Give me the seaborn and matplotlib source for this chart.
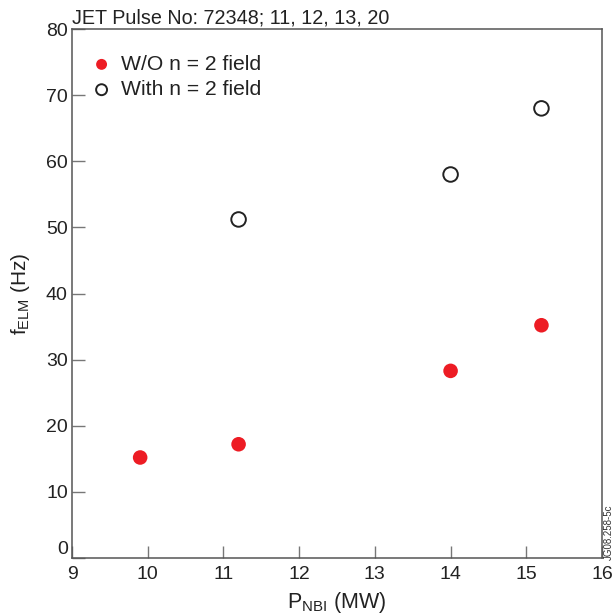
import pandas as pd
import matplotlib
matplotlib.use('Agg')
import matplotlib.pyplot as plt
import seaborn as sb

# values
pnbi_without = [9.9, 11.2, 14.0, 15.2]
felm_without = [15.2, 17.2, 28.3, 35.2]
pnbi_with = [11.2, 14.0, 15.2]
felm_with = [51.2, 58.0, 68.0]

x_ticks = [9, 10, 11, 12, 13, 14, 15, 16]
y_ticks = [0, 10, 20, 30, 40, 50, 60, 70, 80]

sb.set_style('white')
plt.rcParams['font.family'] = ['Liberation Sans', 'DejaVu Sans']
plt.rcParams['mathtext.default'] = 'regular'

df_without = pd.DataFrame({'P': pnbi_without, 'f': felm_without})
df_with = pd.DataFrame({'P': pnbi_with, 'f': felm_with})

fig = plt.figure(figsize=(6.16, 6.15), dpi=100)
ax = fig.add_axes([0.1169, 0.0927, 0.8604, 0.8601])

sb.scatterplot(data=df_without, x='P', y='f', ax=ax, color='#ED1C24', s=110,
               edgecolor='none', label='W/O n = 2 field', zorder=3)
sb.scatterplot(data=df_with, x='P', y='f', ax=ax, facecolor='none', s=110,
               edgecolor='#222222', linewidth=1.4, label='With n = 2 field', zorder=3)

ax.set_xlim(9, 16)
ax.set_ylim(0, 80)
ax.set_xticks(x_ticks)
ax.set_yticks(y_ticks)
ax.tick_params(bottom=True, left=True, direction='in', length=9, width=1,
               color='#777777', labelsize=14, labelcolor='#222222')
ax.tick_params(axis='y', pad=3)
ax.tick_params(axis='x', pad=6)
for lab in ax.get_yticklabels():
    if lab.get_text() == '0':
        lab.set_verticalalignment('bottom')

for sp in ax.spines.values():
    sp.set_color('#555555')
    sp.set_linewidth(1.1)

ax.set_xlabel(r'P$_{NBI}$ (MW)', fontsize=15.5, color='#222222', labelpad=5)
ax.set_ylabel(r'f$_{ELM}$ (Hz)', fontsize=15, color='#222222', labelpad=10)
ax.set_title('JET Pulse No: 72348; 11, 12, 13, 20', loc='left', fontsize=14.2,
             color='#222222', pad=4, x=0.0)

leg = ax.legend(loc='upper left', frameon=False, fontsize=15.2, markerscale=0.75,
                handlelength=1.2, handletextpad=0.3, borderaxespad=0.3,
                labelspacing=0.3, bbox_to_anchor=(0.004, 0.979))
for t in leg.get_texts():
    t.set_color('#222222')

fig.text(0.988, 0.09, 'JG08.258-5c', rotation=90, fontsize=7, color='#333333',
         ha='center', va='bottom')

plt.savefig('out.png', dpi=100)
